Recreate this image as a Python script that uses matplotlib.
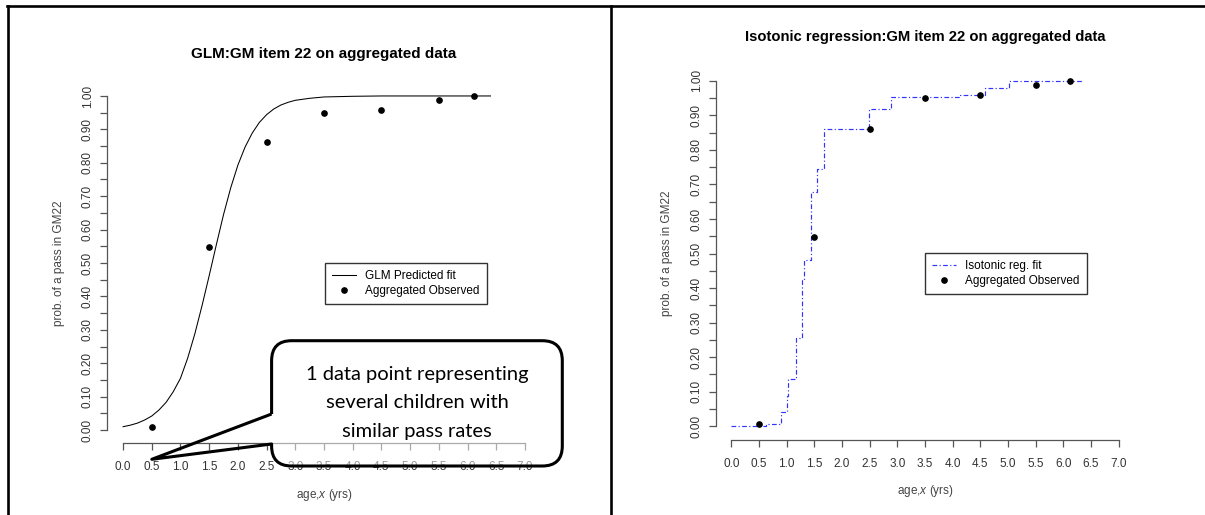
import numpy as np
import matplotlib
matplotlib.use("Agg")
from matplotlib import pyplot as plt
from matplotlib.path import Path
from matplotlib.patches import PathPatch, FancyBboxPatch
from matplotlib.lines import Line2D

plt.rcParams['font.family'] = ['Liberation Sans', 'DejaVu Sans']
plt.rcParams['mathtext.fontset'] = 'custom'
plt.rcParams['mathtext.rm'] = 'Liberation Sans'
plt.rcParams['mathtext.it'] = 'Liberation Sans:italic'

# observed (aggregated) pass rates
obs_age = [0.5, 1.5, 2.5, 3.5, 4.5, 5.5, 6.12]
obs_p = [0.008, 0.547, 0.861, 0.950, 0.958, 0.989, 1.0]

# GLM predicted curve
glm_age = [0, 0.125, 0.25, 0.375, 0.5, 0.625, 0.75, 0.875, 1.0, 1.125, 1.25, 1.375, 1.5,
           1.625, 1.75, 1.875, 2.0, 2.125, 2.25, 2.375, 2.5, 2.625, 2.75, 2.875, 3.0,
           3.25, 3.5, 3.75, 4.0, 4.5, 5.0, 5.5, 6.0, 6.4]
glm_p = [0.010, 0.0145, 0.0207, 0.030, 0.042, 0.060, 0.083, 0.115, 0.155, 0.215, 0.288,
         0.372, 0.462, 0.555, 0.645, 0.725, 0.793, 0.847, 0.889, 0.921, 0.944, 0.961,
         0.973, 0.981, 0.987, 0.993, 0.997, 0.998, 0.999, 1.0, 1.0, 1.0, 1.0, 1.0]

# isotonic regression step fit
iso_age = [0, 0.63, 0.89, 1.01, 1.03, 1.16, 1.27, 1.31, 1.43, 1.55, 1.68, 2.49, 2.88,
           4.13, 4.58, 5.02, 6.36]
iso_p = [0.0, 0.006, 0.042, 0.089, 0.136, 0.255, 0.423, 0.48, 0.677, 0.744, 0.86, 0.917,
         0.954, 0.96, 0.978, 1.0, 1.0]

xticks = np.arange(0, 7.01, 0.5)
yticks = np.arange(0, 1.001, 0.05)
ylabels = ['%.2f' % v if i % 2 == 0 else '' for i, v in enumerate(yticks)]

fig = plt.figure(figsize=(12.05, 5.15), dpi=100)
W, H = 1205.0, 515.0


def r_axes(rect, title, tsize, ylab_x, xlab_y):
    ax = fig.add_axes(rect)
    ax.set_xlim(-0.28, 7.28)
    ax.set_ylim(-0.04, 1.04)
    for s in ['top', 'right']:
        ax.spines[s].set_visible(False)
    ax.spines['left'].set_bounds(0, 1)
    ax.spines['bottom'].set_bounds(0, 7)
    for s in ['left', 'bottom']:
        ax.spines[s].set_color('#555555')
        ax.spines[s].set_linewidth(0.9)
    ax.set_xticks(xticks)
    ax.set_xticklabels(['%.1f' % v for v in xticks])
    ax.set_yticks(yticks)
    ax.set_yticklabels(ylabels, rotation=90, va='center')
    ax.tick_params(axis='both', length=5, width=0.9, color='#555555',
                   labelsize=8.5, labelcolor='#333333')
    ax.tick_params(axis='x', pad=8)
    ax.tick_params(axis='y', pad=4.5)
    ax.set_ylabel('prob. of a pass in GM22', fontsize=8.5, color='#444444')
    ax.yaxis.set_label_coords(ylab_x, 0.5)
    ax.set_xlabel(r'age,$x$ (yrs)', fontsize=8.5, color='#444444')
    ax.xaxis.set_label_coords(0.5, xlab_y)
    ax.text(0.5, 1.08, title, transform=ax.transAxes, ha='center', va='center',
            fontsize=tsize, fontweight='bold')
    return ax


leg_kw = dict(loc='upper left', bbox_transform=fig.transFigure, fontsize=8.5,
              fancybox=False, edgecolor='#333333', framealpha=1, borderpad=0.6,
              labelspacing=0.25, handlelength=2.0, handletextpad=0.8, borderaxespad=0)

ax1 = r_axes([107 / W, 1 - 443.4 / H, 434 / W, 360.8 / H],
             'GLM:GM item 22 on aggregated data', 11, -0.097, -0.120)
ax1.plot(glm_age, glm_p, color='black', lw=0.75, label='GLM Predicted fit')
ax1.plot(obs_age, obs_p, 'o', color='black', ms=3.8, label='Aggregated Observed')
ax1.legend(bbox_to_anchor=(325 / W, 1 - 263 / H), **leg_kw)

ax2 = r_axes([716 / W, 1 - 440.1 / H, 418 / W, 373.2 / H],
             'Isotonic regression:GM item 22 on aggregated data', 10.6, -0.102, -0.115)
ax2.plot(iso_age, iso_p, drawstyle='steps-post', color='#3333ff', lw=0.85,
         dashes=[4, 2, 1, 2], label='Isotonic reg. fit')
ax2.plot(obs_age, obs_p, 'o', color='black', ms=3.8, label='Aggregated Observed')
ax2.legend(bbox_to_anchor=(925 / W, 1 - 253 / H), **leg_kw)

# frame lines of the pasted screenshots (in inches)
tr = fig.dpi_scale_trans
for xs, ys in [([0.07, 12.05], [5.095, 5.095]), ([0.075, 0.075], [5.095, 0]),
               ([6.11, 6.11], [5.095, 0])]:
    fig.add_artist(Line2D(xs, ys, transform=tr, color='black', lw=1.9))

# callout bubble
L, R, T, B, r = 2.716, 5.623, 1.743, 0.49, 0.2
fig.add_artist(FancyBboxPatch((L, B), R - L, T - B,
                              boxstyle='round,pad=0,rounding_size=0.2',
                              transform=tr, facecolor=(1, 1, 1, 0.5), edgecolor='none'))
verts = [(L, 1.01), (L, T - r), (L, T), (L + r, T), (R - r, T), (R, T), (R, T - r),
         (R, B + r), (R, B), (R - r, B), (L + r, B), (L, B), (L, B + r), (L, 0.71),
         (1.518, 0.557), (L, 1.01)]
codes = [Path.MOVETO, Path.LINETO, Path.CURVE3, Path.CURVE3, Path.LINETO, Path.CURVE3,
         Path.CURVE3, Path.LINETO, Path.CURVE3, Path.CURVE3, Path.LINETO, Path.CURVE3,
         Path.CURVE3, Path.LINETO, Path.LINETO, Path.LINETO]
fig.add_artist(PathPatch(Path(verts, codes), transform=tr, fill=False,
                         edgecolor='black', lw=2.2, joinstyle='round'))
fig.text(4.17, 1.12, '1 data point representing\nseveral children with\nsimilar pass rates',
         transform=tr, ha='center', va='center', fontsize=14.5, linespacing=1.85,
         family=['Lato', 'DejaVu Sans'])

fig.savefig('out.png', dpi=100)
